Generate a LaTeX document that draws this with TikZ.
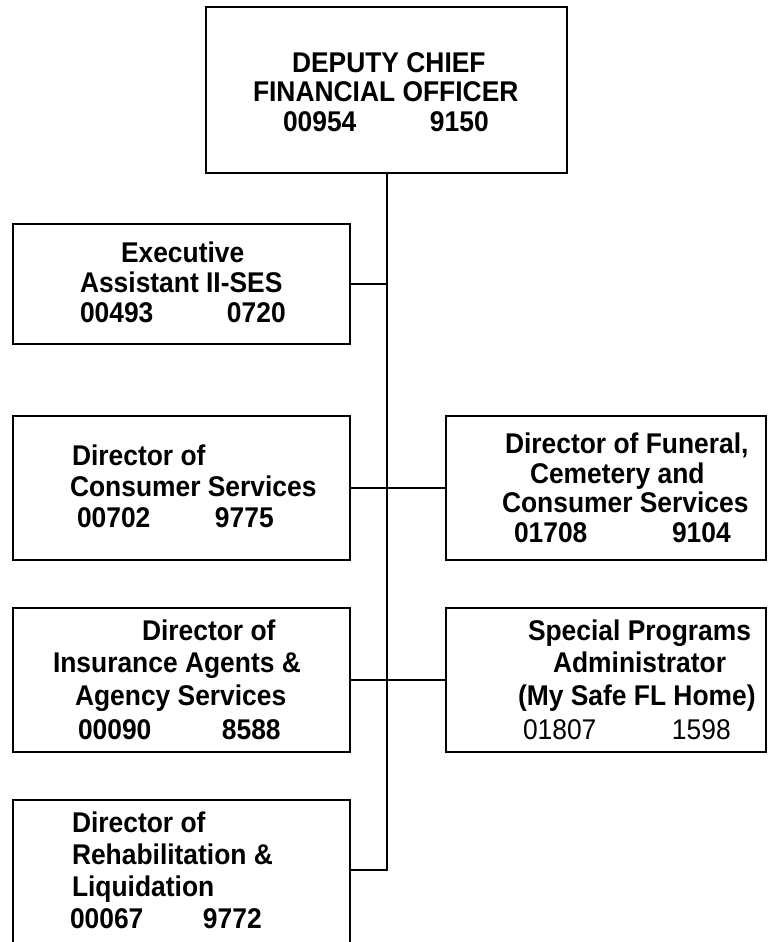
\documentclass[tikz,border=0pt]{standalone}
\usepackage{fontspec}
\usepackage{graphicx}
\setmainfont{Liberation Sans}
\usetikzlibrary{fit}
% slightly tall lettering used throughout the chart
\newcommand\tallt[1]{\scalebox{1}[1.08]{#1}}
\begin{document}
\begin{tikzpicture}[x=0.75pt,y=-0.75pt,
  post/.style={draw=black, line width=1.5pt, fill=white, inner sep=0pt, outer sep=0pt},
  link/.style={draw=black, line width=1.5pt},
  txt/.style={anchor=base west, inner sep=0pt, outer sep=0pt,
    font=\fontsize{19.8pt}{22pt}\selectfont\bfseries},
  txtreg/.style={txt, font=\fontsize{19.8pt}{22pt}\selectfont}]
\useasboundingbox (0,0) rectangle (768,942);

% position boxes
\node[post, fit={(206,7) (567,173)}] (dcfo) {};
\node[post, fit={(13,224) (350,344)}] (exec) {};
\node[post, fit={(13,416) (350,560)}] (cons) {};
\node[post, fit={(446,416) (766,560)}] (fun) {};
\node[post, fit={(13,608) (350,752)}] (ins) {};
\node[post, fit={(446,608) (766,752)}] (spa) {};
\node[post, fit={(13,800) (350,950)}] (rehab) {};

% reporting lines
\coordinate (spineend) at (dcfo.south |- 0,870);
\draw[link] (dcfo.south) -- (spineend) -- (rehab.east |- spineend);
\draw[link] (exec.east) -- (exec.east -| dcfo.south);
\draw[link] (cons.east) -- (fun.west);
\draw[link] (ins.east) -- (spa.west);

% titles and position numbers
\node[txt] (dcfo-a) at (292,73) {\tallt{DEPUTY CHIEF}};
\node[txt] (dcfo-b) at (253,102) {\tallt{FINANCIAL OFFICER}};
\node[txt] (dcfo-n) at (283,132) {\tallt{\makebox[110.25pt][l]{00954}9150}};

\node[txt] (exec-a) at (121,262) {\tallt{Executive}};
\node[txt] (exec-b) at (80,292) {\tallt{Assistant II-SES}};
\node[txt] (exec-n) at (80,322) {\tallt{\makebox[110.25pt][l]{00493}0720}};

\node[txt] (cons-a) at (72,465) {\tallt{Director of}};
\node[txt] (cons-b) at (70,496) {\tallt{Consumer Services}};
\node[txt] (cons-n) at (77,527) {\tallt{\makebox[103.5pt][l]{00702}9775}};

\node[txt] (fun-a) at (505,453) {\tallt{Director of Funeral,}};
\node[txt] (fun-b) at (530,483) {\tallt{Cemetery and}};
\node[txt] (fun-c) at (502,512) {\tallt{Consumer Services}};
\node[txt] (fun-n) at (514,542) {\tallt{\makebox[118.5pt][l]{01708}9104}};

\node[txt] (ins-a) at (142,640) {\tallt{Director of}};
\node[txt] (ins-b) at (53,672) {\tallt{Insurance Agents \&}};
\node[txt] (ins-c) at (75,705) {\tallt{Agency Services}};
\node[txt] (ins-n) at (78,739) {\tallt{\makebox[108pt][l]{00090}8588}};

\node[txt] (spa-a) at (528,640) {\tallt{Special Programs}};
\node[txt] (spa-b) at (553,672) {\tallt{Administrator}};
\node[txt] (spa-c) at (518,705) {\tallt{(My Safe FL Home)}};
\node[txtreg] (spa-n) at (523,739) {\tallt{\makebox[111.75pt][l]{01807}1598}};

\node[txt] (rehab-a) at (72,832) {\tallt{Director of}};
\node[txt] (rehab-b) at (72,864) {\tallt{Rehabilitation \&}};
\node[txt] (rehab-c) at (72,896) {\tallt{Liquidation}};
\node[txt] (rehab-n) at (70,928) {\tallt{\makebox[99.75pt][l]{00067}9772}};
\end{tikzpicture}
\end{document}
